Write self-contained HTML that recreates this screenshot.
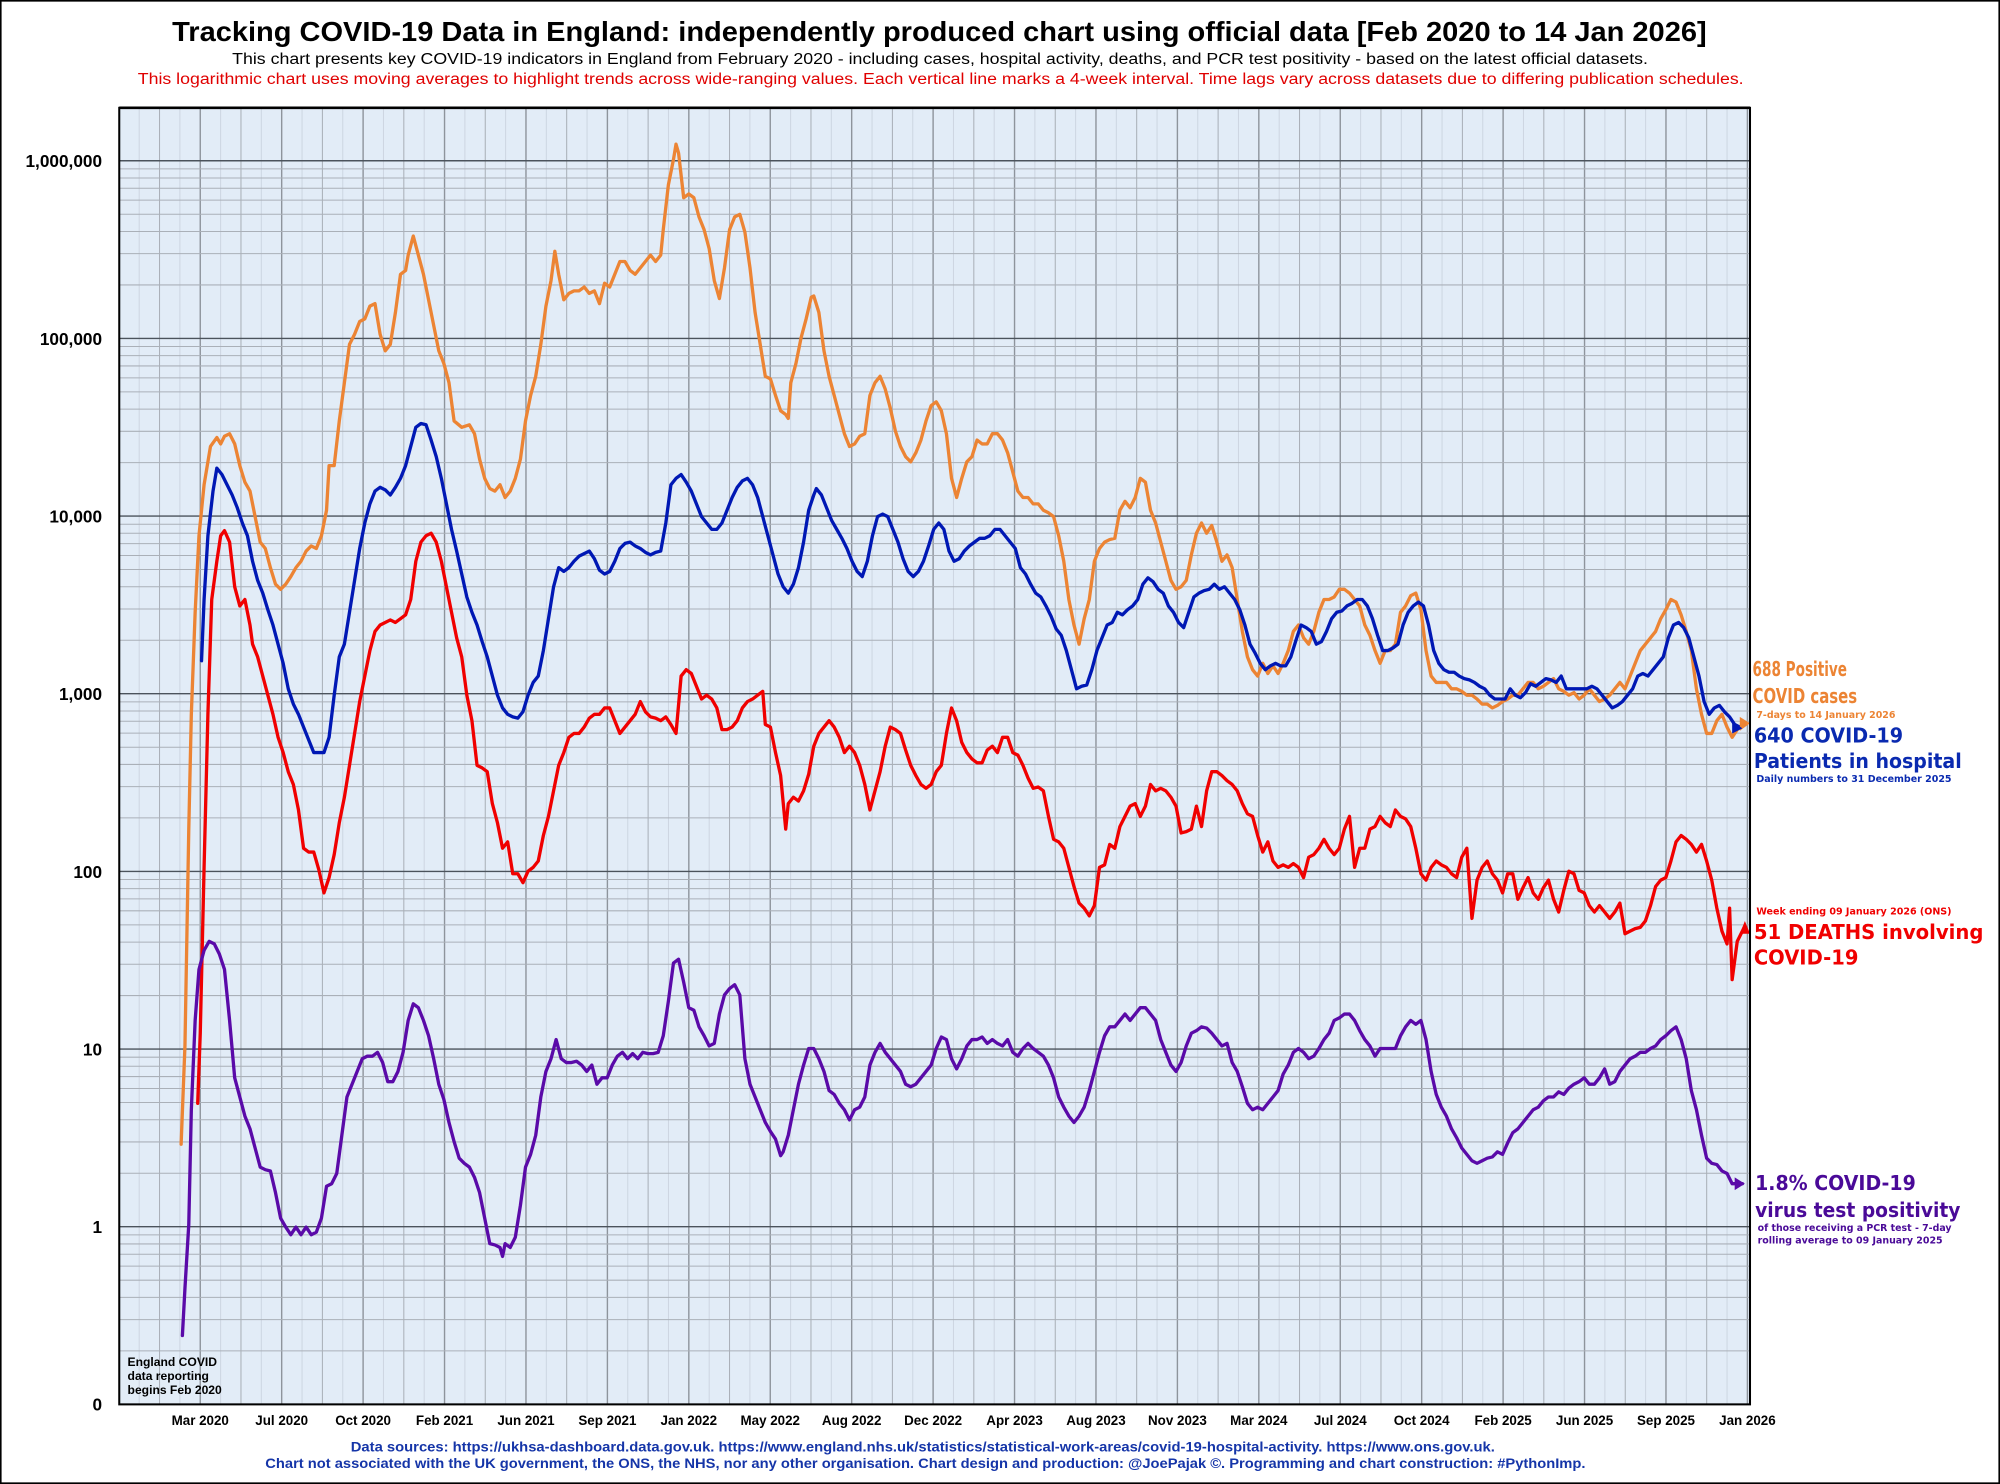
<!DOCTYPE html>
<html><head><meta charset="utf-8"><style>
html,body{margin:0;padding:0;background:#fff}
svg{display:block}
</style></head><body>
<svg id="s" width="2000" height="1484" viewBox="0 0 1568 1163.4" xmlns="http://www.w3.org/2000/svg">
<rect x="0" y="0" width="1568" height="1163.4" fill="#fff" stroke="#000" stroke-width="2.5"/>
<g font-family="Liberation Sans, Arial, sans-serif" text-anchor="start">
<text x="135" y="32" font-size="22" font-weight="bold" textLength="1203" lengthAdjust="spacingAndGlyphs">Tracking COVID-19 Data in England: independently produced chart using official data [Feb 2020 to 14 Jan 2026]</text>
<text x="182" y="50" font-size="12.5" textLength="1110" lengthAdjust="spacingAndGlyphs">This chart presents key COVID-19 indicators in England from February 2020 - including cases, hospital activity, deaths, and PCR test positivity - based on the latest official datasets.</text>
<text x="108" y="66" font-size="12.5" fill="#e00000" textLength="1259" lengthAdjust="spacingAndGlyphs">This logarithmic chart uses moving averages to highlight trends across wide-ranging values. Each vertical line marks a 4-week interval. Time lags vary across datasets due to differing publication schedules.</text>
</g>
<rect x="93.5" y="84.5" width="1278.5" height="1016.5" fill="#e2ecf7"/>
<g id="grid"></g>
<g id="series" fill="none" stroke-width="2.6" stroke-linejoin="round" stroke-linecap="round">
<polyline id="orange" stroke="#ec8434"/>
<polyline id="red" stroke="#f00000"/>
<polyline id="blue" stroke="#0018b4"/>
<polyline id="purple" stroke="#5a0aa8"/>
</g>
<polygon points="1364,562 1372,567 1364,573" fill="#ec8434"/>
<polygon points="1358,565 1366,571 1358,575" fill="#0018b4"/>
<polygon points="1364,732 1368,722 1372,732" fill="#f00000"/>
<polygon points="1360,923 1368,928 1360,933" fill="#5a0aa8"/>
<rect x="93.5" y="84.5" width="1278.5" height="1016.5" fill="none" stroke="#000" stroke-width="1.6"/>
<line x1="93.5" y1="84.5" x2="1372" y2="84.5" stroke="#000" stroke-width="2"/>
<g id="ylab" font-family="Liberation Sans, Arial, sans-serif" font-weight="bold" font-size="13.5" text-anchor="end"></g>
<g id="xlab" font-family="Liberation Sans, Arial, sans-serif" font-weight="bold" font-size="10.5" text-anchor="middle"></g>
<g font-family="Liberation Sans, Arial, sans-serif" font-weight="bold" font-size="9.5" fill="#000">
<text x="100" y="1071">England COVID</text>
<text x="100" y="1082">data reporting</text>
<text x="100" y="1093">begins Feb 2020</text>
</g>
<g font-family="Liberation Sans, Arial, sans-serif" font-weight="bold" font-size="10.5" fill="#1535a8">
<text x="275" y="1138" textLength="897" lengthAdjust="spacingAndGlyphs">Data sources: https://ukhsa-dashboard.data.gov.uk.   https://www.england.nhs.uk/statistics/statistical-work-areas/covid-19-hospital-activity.   https://www.ons.gov.uk.</text>
<text x="208" y="1151" textLength="1035" lengthAdjust="spacingAndGlyphs">Chart not associated with the UK government, the ONS, the NHS, nor any other organisation.   Chart design and production: @JoePajak ©.   Programming and chart construction: #PythonImp.</text>
</g>
<g font-family="DejaVu Sans, Verdana, sans-serif" font-weight="bold">
<text x="1374" y="530" font-size="16" fill="#ec8434" textLength="74" lengthAdjust="spacingAndGlyphs">688 Positive</text>
<text x="1374" y="551" font-size="16" fill="#ec8434" textLength="82" lengthAdjust="spacingAndGlyphs">COVID cases</text>
<text x="1377" y="563" font-size="7.5" fill="#ec8434" textLength="109" lengthAdjust="spacingAndGlyphs">7-days to 14 January 2026</text>
<text x="1375" y="582" font-size="16" fill="#0a2ab0" textLength="117" lengthAdjust="spacingAndGlyphs">640 COVID-19</text>
<text x="1375" y="602" font-size="16" fill="#0a2ab0" textLength="163" lengthAdjust="spacingAndGlyphs">Patients in hospital</text>
<text x="1377" y="613" font-size="7.5" fill="#0a2ab0" textLength="153" lengthAdjust="spacingAndGlyphs">Daily numbers to 31 December 2025</text>
<text x="1377" y="717" font-size="7.5" fill="#f00000" textLength="153" lengthAdjust="spacingAndGlyphs">Week ending 09 January 2026 (ONS)</text>
<text x="1375" y="736" font-size="16" fill="#f00000" textLength="180" lengthAdjust="spacingAndGlyphs">51 DEATHS involving</text>
<text x="1375" y="756" font-size="16" fill="#f00000" textLength="82" lengthAdjust="spacingAndGlyphs">COVID-19</text>
<text x="1376" y="933" font-size="16" fill="#4a0a98" textLength="126" lengthAdjust="spacingAndGlyphs">1.8% COVID-19</text>
<text x="1376" y="954" font-size="16" fill="#4a0a98" textLength="161" lengthAdjust="spacingAndGlyphs">virus test positivity</text>
<text x="1378" y="965" font-size="7.5" fill="#4a0a98" textLength="152" lengthAdjust="spacingAndGlyphs">of those receiving a PCR test - 7-day</text>
<text x="1378" y="975" font-size="7.5" fill="#4a0a98" textLength="145" lengthAdjust="spacingAndGlyphs">rolling average to 09 January 2025</text>
</g>
</svg>
<script>
var NS="http://www.w3.org/2000/svg";
function el(p,n,a,t){var e=document.createElementNS(NS,n);for(var k in a)e.setAttribute(k,a[k]);if(t!==undefined)e.textContent=t;p.appendChild(e);return e;}
var g=document.getElementById("grid");
var L=93.5,R=1372,T=84.5,B=1101,D=(1101-126)/7;
// vertical lines
var x0=157,st=15.96;
for(var k=-3;k<=76;k++){var x=x0+k*st;if(x<L||x>R)continue;
 var lab=(k%4===0), ev=(k%2===0);
 el(g,"line",{x1:x,y1:T,x2:x,y2:B,stroke:lab?"#8e949c":(ev?"#a9afb7":"#cdd6e2"),"stroke-width":lab?1.1:0.8});}
// horizontal
for(var d=0;d<8;d++){var yb=B-d*D;
 for(var m=2;m<=9;m++){var y=yb-Math.log10(m)*D;if(y<T)continue;
  el(g,"line",{x1:L,y1:y,x2:R,y2:y,stroke:"#aab0b8","stroke-width":0.8});}
 if(d>0) el(g,"line",{x1:L,y1:yb,x2:R,y2:yb,stroke:"#4b535c","stroke-width":1.1});}
var yl=document.getElementById("ylab");
var labs=["0","1","10","100","1,000","10,000","100,000","1,000,000"];
for(var d=0;d<8;d++)el(yl,"text",{x:80,y:B-d*D+5},labs[d]);
var xl=document.getElementById("xlab");
var xs=["Mar 2020","Jul 2020","Oct 2020","Feb 2021","Jun 2021","Sep 2021","Jan 2022","May 2022","Aug 2022","Dec 2022","Apr 2023","Aug 2023","Nov 2023","Mar 2024","Jul 2024","Oct 2024","Feb 2025","Jun 2025","Sep 2025","Jan 2026"];
for(var i=0;i<xs.length;i++)el(xl,"text",{x:157+i*63.84,y:1117},xs[i]);
function P(id,a){var s=[];for(var i=0;i<a.length;i+=2)s.push(a[i]+","+a[i+1]);document.getElementById(id).setAttribute("points",s.join(" "));}
P("orange",[142,897,145,820,148,650,150,560,153,480,156,420,160,380,165,350,170,343,173,348,176,342,180,340,184,348,188,365,192,378,196,385,200,405,204,425,208,430,212,445,216,458,220,462,224,458,228,452,232,445,236,440,240,432,244,428,248,430,252,420,256,400,258,365,262,365,266,330,270,300,274,270,278,262,282,252,286,250,290,240,294,238,298,262,302,275,306,270,310,245,314,215,318,212,320,200,324,185,328,200,332,215,336,235,340,255,344,275,348,285,352,300,356,330,362,335,368,333,372,340,376,360,380,375,384,383,388,385,392,380,396,390,400,385,404,375,408,360,412,330,416,310,420,295,424,270,428,240,432,220,435,197,438,215,442,235,446,230,450,228,454,228,458,225,462,230,466,228,470,238,474,222,478,225,482,215,486,205,490,205,494,212,498,215,502,210,506,205,510,200,514,205,518,200,520,180,524,145,528,125,530,113,532,120,536,155,540,152,544,155,548,170,552,180,556,195,560,220,564,234,568,210,572,180,576,170,580,168,584,182,588,210,592,245,596,270,600,295,604,297,608,310,612,322,616,325,618,328,620,300,624,285,628,265,632,250,636,233,638,232,642,245,646,275,650,295,654,310,658,325,662,340,666,350,670,348,674,342,678,340,682,310,686,300,690,295,694,305,698,320,702,338,706,350,710,358,714,362,718,355,722,345,726,330,730,318,734,315,738,322,742,340,746,375,750,390,754,375,758,362,762,358,766,345,770,348,774,348,778,340,782,340,786,345,790,355,794,370,798,385,802,390,806,390,810,395,814,395,818,400,822,402,826,405,830,420,834,440,838,470,842,490,846,505,850,485,854,470,858,440,862,430,866,425,870,423,874,422,878,400,882,393,886,398,890,390,894,375,898,378,902,400,906,410,910,425,914,440,918,455,922,462,926,460,930,455,934,435,938,418,942,410,946,418,950,412,954,425,958,440,962,435,966,445,970,470,974,495,978,515,982,525,986,530,990,520,994,528,998,522,1002,528,1006,520,1010,510,1014,495,1018,490,1022,500,1026,505,1030,495,1034,480,1038,470,1042,470,1046,468,1050,462,1054,462,1058,465,1062,470,1066,475,1070,490,1074,498,1078,510,1082,520,1086,510,1090,510,1094,505,1098,480,1102,475,1106,467,1110,465,1114,478,1118,510,1122,530,1126,535,1130,535,1134,535,1138,540,1142,540,1146,542,1150,545,1154,545,1158,548,1162,552,1166,552,1170,555,1174,553,1178,550,1182,548,1186,545,1190,545,1194,540,1198,535,1202,535,1206,540,1210,538,1214,535,1218,532,1222,540,1226,542,1230,545,1234,543,1238,548,1242,545,1246,540,1250,545,1254,550,1258,548,1262,545,1266,540,1270,535,1274,540,1278,530,1282,520,1286,510,1290,505,1294,500,1298,495,1302,485,1306,478,1310,470,1314,472,1318,482,1322,495,1326,510,1330,540,1334,560,1338,575,1342,575,1346,565,1350,560,1354,570,1358,578,1362,572,1366,568]);
P("blue",[158,518,160,470,163,420,167,385,170,367,174,372,178,380,182,388,186,398,190,410,194,420,198,440,202,455,206,465,210,478,214,490,218,505,222,520,226,540,230,552,234,560,238,570,242,580,246,590,250,590,254,590,258,578,262,545,266,515,270,505,274,480,278,455,282,430,286,410,290,395,294,385,298,382,302,384,306,388,310,382,314,375,318,365,322,350,326,335,330,332,334,333,338,345,342,358,346,375,350,395,354,415,358,432,362,450,366,468,370,480,374,490,378,503,382,515,386,530,390,545,394,555,398,560,402,562,406,563,410,558,414,545,418,535,422,530,426,510,430,485,434,460,438,445,442,448,446,445,450,440,454,436,458,434,462,432,466,438,470,447,474,450,478,448,482,440,486,430,490,426,494,425,498,428,502,430,506,433,510,435,514,433,518,432,522,410,526,380,530,375,534,372,538,378,542,385,546,395,550,405,554,410,558,415,562,415,566,410,570,400,574,390,578,382,582,377,586,375,590,380,594,390,598,405,602,420,606,435,610,450,614,460,618,465,622,458,626,445,630,425,634,400,638,388,640,383,644,388,648,398,652,408,656,415,660,422,664,430,668,440,672,448,676,452,680,440,684,420,688,405,692,403,696,405,700,415,704,425,708,438,712,448,716,452,720,448,724,440,728,428,732,415,736,410,740,415,744,432,748,440,752,438,756,432,760,428,764,425,768,422,772,422,776,420,780,415,784,415,788,420,792,425,796,430,800,445,804,450,808,458,812,465,816,468,820,475,824,483,828,493,832,498,836,510,840,525,844,540,848,538,852,537,856,525,860,510,864,500,868,490,872,488,876,480,880,482,884,478,888,475,892,470,896,458,900,453,904,456,908,462,912,465,916,475,920,480,924,488,928,492,932,480,936,468,940,465,944,463,948,462,952,458,956,462,960,460,964,465,968,470,972,478,976,490,980,505,984,512,988,520,992,525,996,522,1000,520,1004,522,1008,522,1012,515,1016,502,1020,490,1024,492,1028,495,1032,505,1036,503,1040,495,1044,485,1048,480,1052,479,1056,475,1060,473,1064,470,1068,470,1072,475,1076,485,1080,498,1084,510,1088,510,1092,508,1096,505,1100,490,1104,480,1108,475,1112,472,1116,475,1120,490,1124,510,1128,520,1132,525,1136,527,1140,527,1144,530,1148,532,1152,533,1156,535,1160,538,1164,540,1168,545,1172,548,1176,548,1180,548,1184,540,1188,545,1192,547,1196,543,1200,536,1204,538,1208,535,1212,532,1216,533,1220,535,1224,530,1228,540,1232,540,1236,540,1240,540,1244,540,1248,538,1252,540,1256,545,1260,550,1264,555,1268,553,1272,550,1276,545,1280,540,1284,530,1288,528,1292,530,1296,525,1300,520,1304,515,1308,500,1312,490,1316,488,1320,492,1324,500,1328,515,1332,530,1336,550,1340,560,1344,555,1348,553,1352,558,1356,562,1360,568,1364,570]);
P("red",[155,865,157,810,160,680,163,560,166,470,170,440,173,420,176,416,180,425,184,460,188,475,192,470,196,490,198,505,202,515,206,530,210,545,214,560,218,578,222,590,226,605,230,615,234,635,238,665,242,668,246,668,250,682,254,700,258,688,262,670,266,645,270,625,274,600,278,575,282,550,286,530,290,510,294,495,298,490,302,488,306,486,310,488,314,485,318,482,322,470,326,440,330,425,334,420,338,418,342,425,346,440,350,460,354,480,358,500,362,515,366,545,370,565,374,600,378,602,382,605,386,630,390,645,394,665,398,660,402,685,406,685,410,692,414,683,418,680,422,675,426,655,430,640,434,620,438,600,442,590,446,578,450,575,454,575,458,570,462,563,466,560,470,560,474,555,478,555,482,565,486,575,490,570,494,565,498,560,502,550,506,558,510,562,514,563,518,565,522,562,526,568,530,575,534,530,538,525,542,528,546,538,550,548,554,545,558,548,562,555,566,572,570,572,574,570,578,565,582,555,586,550,590,548,594,545,598,542,600,568,604,570,608,590,612,608,616,650,618,630,622,625,626,628,630,620,634,607,638,585,642,575,646,570,650,565,654,570,658,578,662,590,666,585,670,590,674,600,678,615,682,635,686,620,690,605,694,585,698,570,702,572,706,575,710,588,714,600,718,608,722,615,726,618,730,615,734,605,738,600,742,575,746,555,750,565,754,582,758,590,762,595,766,598,770,598,774,588,778,585,782,590,786,578,790,578,794,590,798,592,802,600,806,610,810,618,814,617,818,620,822,640,826,658,830,660,834,665,838,680,842,695,846,708,850,712,854,718,858,710,862,680,866,678,870,662,874,665,878,648,882,640,886,632,890,630,894,640,898,632,902,615,906,620,910,618,914,620,918,625,922,632,926,653,930,652,934,650,938,632,942,648,946,620,950,605,954,605,958,608,962,612,966,615,970,620,974,630,978,638,982,640,986,655,990,668,994,660,998,675,1002,680,1006,678,1010,680,1014,677,1018,680,1022,688,1026,672,1030,670,1034,665,1038,658,1042,665,1046,670,1050,665,1054,650,1058,640,1062,680,1066,665,1070,665,1074,650,1078,648,1082,640,1086,645,1090,648,1094,635,1098,640,1102,642,1106,648,1110,665,1114,685,1118,690,1122,680,1126,675,1130,678,1134,680,1138,685,1142,688,1146,672,1150,665,1154,720,1158,690,1162,680,1166,675,1170,685,1174,690,1178,700,1182,685,1186,685,1190,705,1194,696,1198,688,1202,700,1206,705,1210,696,1214,690,1218,705,1222,715,1226,698,1230,683,1234,685,1238,698,1242,700,1246,710,1250,715,1254,710,1258,715,1262,720,1266,715,1270,708,1274,732,1278,730,1282,728,1286,727,1290,722,1294,710,1298,695,1302,690,1306,688,1310,675,1314,660,1318,655,1322,658,1326,662,1330,668,1334,662,1338,675,1342,690,1346,712,1350,730,1354,740,1356,712,1358,768,1362,738,1366,730,1368,726]);
P("purple",[143,1047,145,1010,148,960,150,870,153,800,156,760,160,745,164,738,168,740,172,748,176,760,180,800,184,845,188,860,192,875,196,885,200,900,204,915,208,917,212,918,216,935,220,955,224,962,228,968,232,962,236,968,240,962,244,968,248,966,252,955,256,930,260,928,264,920,268,890,272,860,276,850,280,840,284,830,288,828,292,828,296,825,300,833,304,848,308,848,312,840,316,825,320,800,324,787,328,790,332,800,336,812,340,830,344,850,348,862,352,880,356,895,360,908,364,912,368,915,372,923,376,935,380,955,384,975,388,976,392,978,394,985,396,975,400,978,404,970,408,945,412,915,416,905,420,890,424,860,428,840,432,830,436,815,440,830,444,833,448,833,452,832,456,835,460,840,464,835,468,850,472,845,476,845,480,835,484,828,488,825,492,830,496,826,500,830,504,825,508,826,512,826,516,825,520,812,524,785,528,755,532,752,536,770,540,790,544,792,548,805,552,812,556,820,560,818,564,795,568,780,572,775,576,772,580,780,584,830,588,850,592,860,596,870,600,880,604,887,608,893,612,906,614,903,618,890,622,870,626,850,630,835,634,822,638,822,642,830,646,840,650,855,654,858,658,865,662,870,666,878,670,870,674,868,678,860,682,835,686,825,690,818,694,825,698,830,702,835,706,840,710,850,714,852,718,850,722,845,726,840,730,835,734,822,738,813,742,815,746,830,750,838,754,830,758,820,762,815,766,815,770,813,774,818,778,815,782,818,786,820,790,815,794,825,798,828,802,822,806,818,810,822,814,825,818,828,822,835,826,845,830,860,834,868,838,875,842,880,846,875,850,868,854,855,858,840,862,825,866,812,870,805,874,805,878,800,882,795,886,800,890,795,894,790,898,790,902,795,906,800,910,815,914,825,918,835,922,840,926,833,930,820,934,810,938,808,942,805,946,806,950,810,954,815,958,820,962,818,966,833,970,840,974,852,978,865,982,870,986,868,990,870,994,865,998,860,1002,855,1006,842,1010,835,1014,825,1018,822,1022,825,1026,830,1030,828,1034,822,1038,815,1042,810,1046,800,1050,798,1054,795,1058,795,1062,800,1066,808,1070,815,1074,820,1078,828,1082,822,1086,822,1090,822,1094,822,1098,812,1102,805,1106,800,1110,803,1114,800,1118,815,1122,840,1126,858,1130,868,1134,875,1138,885,1142,892,1146,900,1150,905,1154,910,1158,912,1162,910,1166,908,1170,907,1174,903,1178,905,1182,896,1186,888,1190,885,1194,880,1198,875,1202,870,1206,868,1210,863,1214,860,1218,860,1222,856,1226,858,1230,853,1234,850,1238,848,1242,845,1246,850,1250,850,1254,845,1258,838,1262,850,1266,848,1270,840,1274,835,1278,830,1282,828,1286,825,1290,825,1294,822,1298,820,1302,815,1306,812,1310,808,1314,805,1318,815,1322,830,1326,855,1330,870,1334,890,1338,908,1342,912,1346,913,1350,918,1354,920,1358,928,1362,928,1366,928]);
</script>
</body></html>
